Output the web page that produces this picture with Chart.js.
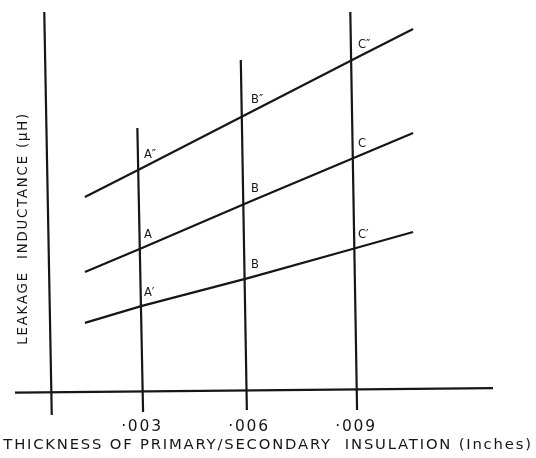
<!DOCTYPE html>
<html>
<head>
<meta charset="utf-8">
<script src="https://cdn.jsdelivr.net/npm/chart.js@4"></script>
<style>
  html, body { margin: 0; padding: 0; background: #fff; }
  #wrap { width: 536px; height: 458px; position: relative; }
</style>
</head>
<body>
<div id="wrap"><canvas id="g1"></canvas></div>
<script>
// --- DADOS ---
const insulation = [0.0014, 0.003, 0.006, 0.009, 0.0106];   // polegadas, ao longo das retas
const upperLine  = [19.3, 22.2, 27.7, 33.2, 36.1];
const middleLine = [11.8, 14.2, 18.8, 23.3, 25.7];
const lowerLine  = [6.7, 8.4, 11.2, 14.2, 15.8];
const upperLabels  = ['', 'A″', 'B″', 'C″', ''];
const middleLabels = ['', 'A', 'B', 'C', ''];
const lowerLabels  = ['', 'A′', 'B', 'C′', ''];

const tickValues = [0.003, 0.006, 0.009];
// retas verticais (o desenho escaneado está levemente inclinado)
const guideTopX    = [0.00287, 0.00577, 0.00884];
const guideBottomX = [0.00303, 0.00594, 0.00903];
const guideTopY    = [26.2, 33.0, 37.8];
const guideBottomY = [-2.2, -2.0, -2.0];
// eixos desenhados à mão
const yAxisX = [0.00047, 0.00026];
const yAxisY = [-2.5, 37.8];
const xAxisX = [-0.00056, 0.01284];
const xAxisY = [-0.27, 0.17];

const INK = '#161616';
const FONT = "'DejaVu Sans', sans-serif";

function pts(xs, ys) { return xs.map((x, i) => ({ x, y: ys[i] })); }
function lineSet(data, labels) {
    return { data, labels, showLine: true, borderColor: INK, borderWidth: 2.2, pointRadius: 0, clip: false, tension: 0 };
}

const datasets = [
    lineSet(pts(xAxisX, xAxisY)),
    lineSet(pts(yAxisX, yAxisY)),
    ...guideTopX.map((t, i) => lineSet(pts([guideBottomX[i], t], [guideBottomY[i], guideTopY[i]]))),
    lineSet(pts(insulation, upperLine), upperLabels),
    lineSet(pts(insulation, middleLine), middleLabels),
    lineSet(pts(insulation, lowerLine), lowerLabels)
];

// letras espaçadas nos textos dos eixos (como no original), depois volta ao normal
const wideAxisText = {
    id: 'wideAxisText',
    beforeDraw(chart) { chart.ctx.letterSpacing = '1.8px'; },
    beforeDatasetsDraw(chart) { chart.ctx.letterSpacing = '0px'; }
};

// letras A, B, C junto às interseções
const pointLetters = {
    id: 'pointLetters',
    afterDatasetsDraw(chart) {
        const ctx = chart.ctx;
        ctx.save();
        ctx.fillStyle = INK;
        ctx.font = "11.5px " + FONT;
        ctx.textAlign = 'left';
        ctx.textBaseline = 'alphabetic';
        chart.data.datasets.forEach((ds, di) => {
            if (!ds.labels) return;
            chart.getDatasetMeta(di).data.forEach((p, i) => {
                if (ds.labels[i]) ctx.fillText(ds.labels[i], p.x + 2, p.y - 10);
            });
        });
        ctx.restore();
    }
};

const noGrid = { display: false, drawTicks: false, tickLength: 0 };

new Chart(document.getElementById('g1'), {
    type: 'scatter',
    data: { datasets },
    options: {
        responsive: true, maintainAspectRatio: false, animation: false,
        layout: { padding: { left: 0, right: 0, top: 8, bottom: 2 } },
        plugins: {
            legend: { display: false }, tooltip: { enabled: false },
            // título do eixo x ocupa a largura toda, como no original
            title: {
                display: true, position: 'bottom', color: INK,
                text: 'THICKNESS OF PRIMARY/SECONDARY  INSULATION (Inches)',
                font: { family: FONT, size: 14.8, weight: 'normal', lineHeight: 1 },
                padding: { top: 0, bottom: 3.6 }
            }
        },
        scales: {
            x: {
                type: 'linear', min: 0.000006, max: 0.014046,
                afterBuildTicks: s => { s.ticks = tickValues.map(v => ({ value: v })); },
                afterFit: s => { s.height = 25; },
                ticks: {
                    autoSkip: false, maxRotation: 0, padding: 5.5, color: INK,
                    font: { family: FONT, size: 15.5, lineHeight: 1.1 },
                    callback: v => '·' + String(Math.round(v * 1000)).padStart(3, '0')
                },
                grid: noGrid, border: { display: false }
            },
            y: {
                min: -2.27, max: 38.2,
                ticks: { display: false },
                grid: noGrid, border: { display: false },
                title: {
                    display: true, text: 'LEAKAGE  INDUCTANCE (μH)      ',
                    color: INK, font: { family: FONT, size: 13.3, lineHeight: 1.444 }, padding: { top: 14, bottom: 2 }
                }
            }
        }
    },
    plugins: [wideAxisText, pointLetters]
});
</script>
</body>
</html>
